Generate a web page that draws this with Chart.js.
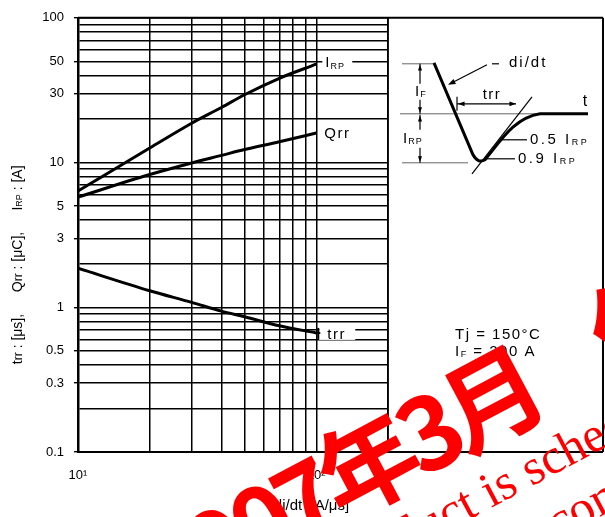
<!DOCTYPE html>
<html>
<head>
<meta charset="utf-8">
<script src="https://cdn.jsdelivr.net/npm/chart.js@4.4.0/dist/chart.umd.min.js"></script>
<style>
  html, body { margin: 0; padding: 0; background: #fff; }
  #wrap { width: 605px; height: 517px; }
</style>
</head>
<body>
<div id="wrap"><canvas id="js_recovery_chart"></canvas></div>
<script>
// -di/dt [A/us] and the three curves
const diDt = [10, 20, 30, 40, 50, 70, 100]
const irpValues = [6.35, 12.6, 18.7, 24.0, 29.4, 38.2, 47.8]
const qrrValues = [5.77, 8.26, 9.93, 11.2, 12.3, 13.9, 16.0]
const trrValues = [1.86, 1.30, 1.08, 0.94, 0.86, 0.745, 0.665]

// grid and tick labels
const xGrid = [10, 20, 30, 40, 50, 60, 70, 80, 90, 100, 200]
const xTickLabels = { 10: '10\u00b9', 100: '10\u00b2' }
const yGrid = [0.1, 0.2, 0.3, 0.4, 0.5, 0.6, 0.7, 0.8, 0.9, 1, 2, 3, 4, 5, 6, 7, 8, 9, 10, 20, 30, 40, 50, 60, 70, 80, 90, 100]
const yTickLabels = [0.1, 0.3, 0.5, 1, 3, 5, 10, 30, 50, 100]

const FONT = '"Liberation Sans", Arial, sans-serif'
Chart.defaults.font.family = FONT
Chart.defaults.color = '#000'

const toPoints = vals => diDt.map((x, i) => ({ x: x, y: vals[i] }))

// draws text pieces [text, size, dy] one after another
function richText(ctx, parts, x, y, align, spacing) {
  ctx.letterSpacing = (spacing || 0) + 'px'
  let total = 0
  parts.forEach(p => { ctx.font = p[1] + 'px ' + FONT; total += ctx.measureText(p[0]).width })
  let cx = align === 'center' ? x - total / 2 : (align === 'right' ? x - total : x)
  ctx.textAlign = 'left'
  ctx.textBaseline = 'middle'
  parts.forEach(p => {
    ctx.font = p[1] + 'px ' + FONT
    ctx.fillText(p[0], cx, y + (p[2] || 0))
    cx += ctx.measureText(p[0]).width
  })
  ctx.letterSpacing = '0px'
  return total
}

function line(ctx, x1, y1, x2, y2) {
  ctx.beginPath(); ctx.moveTo(x1, y1); ctx.lineTo(x2, y2); ctx.stroke()
}

function arrowHead(ctx, x1, y1, x2, y2, size) {
  const a = Math.atan2(y2 - y1, x2 - x1)
  ctx.beginPath()
  ctx.moveTo(x2, y2)
  ctx.lineTo(x2 - size * Math.cos(a - 0.35), y2 - size * Math.sin(a - 0.35))
  ctx.lineTo(x2 - size * Math.cos(a + 0.35), y2 - size * Math.sin(a + 0.35))
  ctx.closePath()
  ctx.fill()
}

// labels at the end of each curve
const curveLabels = {
  id: 'curveLabels',
  afterDatasetsDraw(chart) {
    const ctx = chart.ctx
    ctx.save()
    ctx.fillStyle = '#000'
    ctx.strokeStyle = '#000'
    const end = i => chart.getDatasetMeta(i).data[diDt.length - 1]

    let p = end(0)
    ctx.fillStyle = '#fff'; ctx.fillRect(p.x + 6, p.y - 9, 30, 16)
    ctx.fillStyle = '#000'
    richText(ctx, [['I', 15], ['RP', 9, 3]], p.x + 9, p.y - 1, 'left', 1)

    p = end(1)
    richText(ctx, [['Q', 15], ['rr', 15]], p.x + 8, p.y + 1, 'left', 1.5)

    p = end(2)
    ctx.fillStyle = '#fff'; ctx.fillRect(p.x + 3, p.y - 7, 36, 14)
    ctx.fillStyle = '#000'
    ctx.lineWidth = 2
    line(ctx, p.x + 2, p.y - 5, p.x + 2, p.y + 6)
    line(ctx, p.x - 2, p.y, p.x + 4, p.y)
    richText(ctx, [['trr', 15]], p.x + 11, p.y + 2, 'left', 1.5)
    ctx.restore()
  }
}

// frame, inset waveform, axis titles, watermark
const decorations = {
  id: 'decorations',
  afterDraw(chart) {
    const ctx = chart.ctx
    const a = chart.chartArea
    const X0 = a.right, Y0 = a.top
    const R = 603
    ctx.save()

    // inset box
    ctx.fillStyle = '#fff'
    ctx.fillRect(X0 + 1, Y0 + 1, R - X0 - 1, a.bottom - Y0 - 1)
    ctx.strokeStyle = '#000'
    ctx.lineWidth = 2
    line(ctx, a.left, Y0, R, Y0)
    line(ctx, R, Y0, R, a.bottom)
    line(ctx, a.left, a.bottom, R, a.bottom)
    ctx.lineWidth = 1.6
    line(ctx, X0, Y0, X0, a.bottom)

    const P = (x, y) => [X0 + x, Y0 + y]
    // reference levels
    ctx.strokeStyle = '#666'
    ctx.lineWidth = 1
    line(ctx, ...P(14, 46), ...P(45, 46))
    line(ctx, ...P(12, 96), ...P(190, 96))
    line(ctx, ...P(14, 145), ...P(80, 145))

    // current waveform
    ctx.strokeStyle = '#000'
    ctx.lineWidth = 3
    ctx.lineJoin = 'round'
    ctx.beginPath()
    ctx.moveTo(...P(46, 45))
    ctx.lineTo(...P(85, 137))
    ctx.quadraticCurveTo(...P(90, 146), ...P(97, 142))
    ctx.bezierCurveTo(...P(112, 124), ...P(126, 100), ...P(152, 96))
    ctx.lineTo(...P(200, 96))
    ctx.stroke()

    // tangent through 0.9 IRP and 0.5 IRP
    ctx.lineWidth = 1.2
    line(ctx, ...P(84, 156), ...P(144, 79))

    // IF / IRP arrows
    ctx.fillStyle = '#000'
    ctx.lineWidth = 1.2
    line(ctx, ...P(32, 46), ...P(32, 66)); arrowHead(ctx, ...P(32, 56), ...P(32, 47), 6)
    line(ctx, ...P(32, 82), ...P(32, 96)); arrowHead(ctx, ...P(32, 86), ...P(32, 95), 6)
    line(ctx, ...P(32, 97), ...P(32, 112)); arrowHead(ctx, ...P(32, 106), ...P(32, 98), 6)
    line(ctx, ...P(32, 130), ...P(32, 145)); arrowHead(ctx, ...P(32, 135), ...P(32, 144), 6)
    richText(ctx, [['I', 15], ['F', 9, 3]], ...P(27, 74), 'left', 1)
    richText(ctx, [['I', 15], ['RP', 9, 3]], ...P(15, 121), 'left', 1)

    // trr arrow
    line(ctx, ...P(69, 79), ...P(69, 93))
    line(ctx, ...P(69, 86), ...P(128, 86))
    arrowHead(ctx, ...P(80, 86), ...P(70, 86), 7)
    arrowHead(ctx, ...P(118, 86), ...P(128, 86), 7)
    richText(ctx, [['trr', 15]], ...P(104, 77), 'center', 1.5)
    richText(ctx, [['t', 16]], ...P(197, 84), 'center', 0)

    // di/dt pointer
    line(ctx, ...P(99, 47), ...P(62, 66))
    arrowHead(ctx, ...P(72, 61), ...P(60, 67), 8)
    line(ctx, ...P(104, 46), ...P(111, 46))
    richText(ctx, [['di/dt', 15]], ...P(121, 45), 'left', 2)

    // 0.5 / 0.9 IRP
    line(ctx, ...P(112, 122), ...P(139, 122))
    richText(ctx, [['0.5 I', 15], ['RP', 9, 3]], ...P(142, 122), 'left', 2.5)
    line(ctx, ...P(97, 141), ...P(127, 141))
    richText(ctx, [['0.9 I', 15], ['RP', 9, 3]], ...P(130, 141), 'left', 2.5)

    // conditions
    richText(ctx, [['Tj = 150\u00b0C', 15]], ...P(67, 317), 'left', 1.5)
    richText(ctx, [['I', 15], ['F', 9, 3], [' = 200 A', 15]], ...P(67, 334), 'left', 1.5)

    // axis titles
    ctx.fillStyle = '#000'
    richText(ctx, [['-di/dt  [A/\u03bcs]', 15]], 309, 506, 'center', 0)
    const yParts = [
      [339, [['t', 14], ['rr', 12, 1], [' : [\u03bcs],', 14]]],
      [262, [['Q', 14], ['rr', 12, 1], [' : [\u03bcC],', 14]]],
      [188, [['I', 14], ['RP', 9, 2], [' : [A]', 14]]]
    ]
    yParts.forEach(([yc, parts]) => {
      ctx.save()
      ctx.translate(18, yc)
      ctx.rotate(-Math.PI / 2)
      richText(ctx, parts, 0, 0, 'center', 0)
      ctx.restore()
    })

    // red stamp over the page
    ctx.fillStyle = '#ff0000'
    const ang = -28 * Math.PI / 180
    ctx.save()
    ctx.translate(368, 464)
    ctx.rotate(ang)
    ctx.font = 'bold 100px "Noto Sans CJK JP"'
    ctx.letterSpacing = '-9px'
    ctx.textBaseline = 'middle'
    ctx.textAlign = 'left'
    ctx.fillText('\u5e743\u6708', -50, 0)
    ctx.fillText('\u4fdd\u5b88\u54c1', 258, 0)
    ctx.textAlign = 'right'
    ctx.fillText('2007', -50, 0)
    ctx.restore()

    ctx.save()
    ctx.translate(491, 508)
    ctx.rotate(ang)
    ctx.font = '50px "Liberation Serif"'
    ctx.textBaseline = 'alphabetic'
    ctx.textAlign = 'left'
    ctx.fillText('is scheduled to be discontinued', 0, 0)
    ctx.textAlign = 'right'
    ctx.fillText('This product ', 0, 0)
    ctx.restore()

    ctx.save()
    ctx.translate(517, 546)
    ctx.rotate(ang)
    ctx.font = '50px "Liberation Serif"'
    ctx.textAlign = 'left'
    ctx.fillText('recommended', 0, 0)
    ctx.textAlign = 'right'
    ctx.fillText('Not ', 0, 0)
    ctx.restore()

    ctx.restore()
  }
}

const curveStyle = {
  borderColor: '#000',
  backgroundColor: '#000',
  borderWidth: 3,
  pointRadius: 0,
  cubicInterpolationMode: 'monotone',
  fill: false,
}

const data = {
  datasets: [
    { label: 'IRP', data: toPoints(irpValues), ...curveStyle },
    { label: 'Qrr', data: toPoints(qrrValues), ...curveStyle },
    { label: 'trr', data: toPoints(trrValues), ...curveStyle },
  ]
}

const options = {
  responsive: true,
  maintainAspectRatio: false,
  animation: false,
  devicePixelRatio: 1,
  layout: { padding: { top: 16, right: 217, left: 0, bottom: 0 } },
  plugins: { legend: { display: false }, tooltip: { enabled: false } },
  scales: {
    x: {
      type: 'logarithmic',
      min: 10,
      max: 200,
      afterBuildTicks: s => { s.ticks = xGrid.map(v => ({ value: v })) },
      afterFit: s => { s.height = 65 },
      ticks: {
        autoSkip: false,
        maxRotation: 0,
        padding: 16,
        font: { size: 13 },
        callback: v => xTickLabels[v] || '',
      },
      grid: { color: '#000', lineWidth: 1.5, drawTicks: false },
      border: { color: '#000', width: 2 },
    },
    y: {
      type: 'logarithmic',
      min: 0.1,
      max: 100,
      afterBuildTicks: s => { s.ticks = yGrid.map(v => ({ value: v })) },
      afterFit: s => { s.width = 78 },
      ticks: {
        autoSkip: false,
        padding: 10,
        font: { size: 13 },
        callback: v => yTickLabels.includes(v) ? String(v) : '',
      },
      grid: {
        color: '#000',
        lineWidth: 1.4,
        tickLength: 4,
        tickColor: c => (c.tick && yTickLabels.includes(c.tick.value)) ? '#000' : 'rgba(0,0,0,0)',
      },
      border: { color: '#000', width: 2.5 },
    }
  }
}

const config = {
  type: 'line',
  data,
  options,
  plugins: [curveLabels, decorations]
}

const ctx = document.getElementById('js_recovery_chart').getContext('2d')
const chart = new Chart(ctx, config)
</script>
</body>
</html>
